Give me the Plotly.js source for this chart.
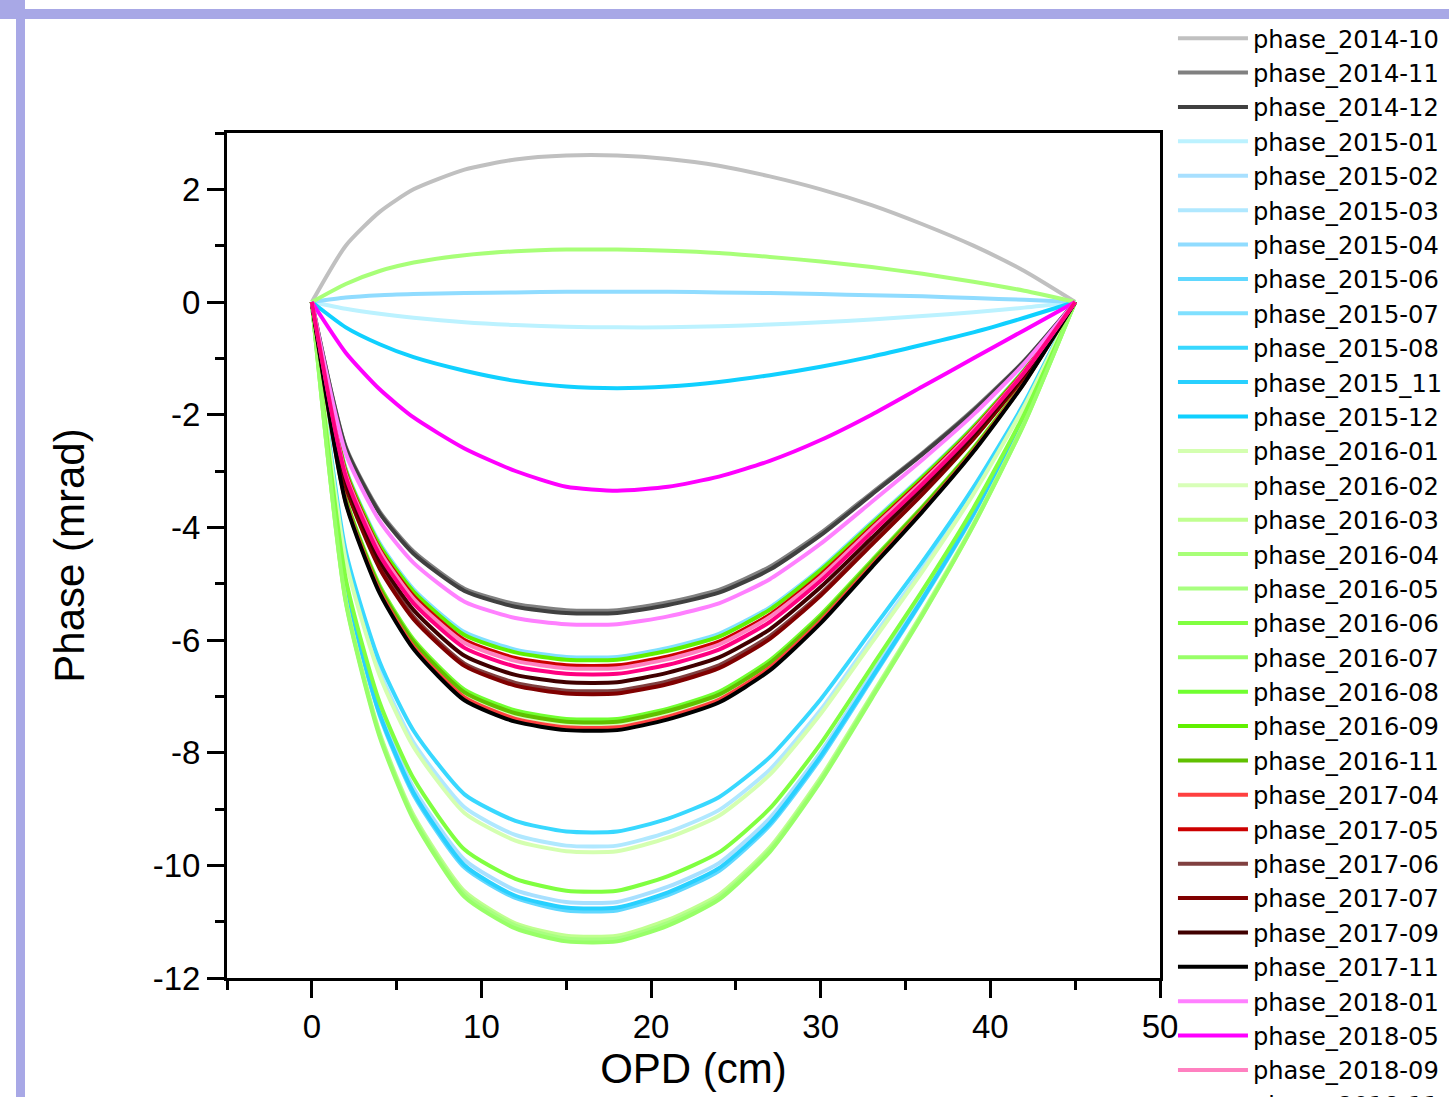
<!DOCTYPE html>
<html>
<head>
<meta charset="utf-8">
<script src="https://cdn.plot.ly/plotly-3.0.1.min.js"></script>
<style>
html, body { margin: 0; padding: 0; background: #fff; overflow: hidden; width: 1449px; height: 1097px; }
#chart { position: absolute; left: 0; top: 0; }
.frame { position: absolute; background: #A8A8E6; z-index: 10; }
</style>
</head>
<body>
<div id="chart"></div>
<div class="frame" style="left:0;top:0;width:22px;height:19px;"></div>
<div class="frame" style="left:0;top:9px;width:1449px;height:10px;"></div>
<div class="frame" style="left:16px;top:0;width:9px;height:1097px;"></div>
<script>
// OPD sample positions (cm)
const opd = [0, 2, 4, 6, 9, 12, 15, 18, 21, 24, 27, 30, 33, 36, 39, 42, 45];

// Phase (mrad) per measurement month
const phase_2014_10 = [0, 1.00, 1.60, 2.00, 2.35, 2.53, 2.60, 2.60, 2.54, 2.42, 2.23, 2.00, 1.72, 1.38, 1.00, 0.55, 0];
const phase_2014_11 = [0, -2.57, -3.72, -4.43, -5.09, -5.36, -5.47, -5.47, -5.33, -5.11, -4.70, -4.10, -3.39, -2.68, -1.91, -1.04, 0];
const phase_2014_12 = [0, -2.59, -3.75, -4.47, -5.13, -5.41, -5.52, -5.52, -5.38, -5.16, -4.75, -4.14, -3.42, -2.70, -1.93, -1.05, 0];
const phase_2015_01 = [0, -0.12, -0.21, -0.28, -0.36, -0.41, -0.44, -0.45, -0.45, -0.43, -0.40, -0.36, -0.31, -0.25, -0.18, -0.10, 0];
const phase_2015_02 = [0, -5.01, -7.24, -8.63, -9.90, -10.44, -10.65, -10.65, -10.38, -9.96, -9.16, -7.99, -6.60, -5.22, -3.73, -2.02, 0];
const phase_2015_03 = [0, -4.54, -6.56, -7.82, -8.97, -9.46, -9.65, -9.65, -9.41, -9.02, -8.30, -7.24, -5.98, -4.73, -3.38, -1.83, 0];
const phase_2015_04 = [0, 0.08, 0.12, 0.14, 0.16, 0.17, 0.18, 0.18, 0.18, 0.17, 0.16, 0.14, 0.12, 0.10, 0.07, 0.04, 0];
const phase_2015_06 = [0, -5.08, -7.34, -8.75, -10.04, -10.58, -10.80, -10.80, -10.53, -10.10, -9.29, -8.10, -6.70, -5.29, -3.78, -2.05, 0];
const phase_2015_07 = [0, -2.96, -4.28, -5.10, -5.86, -6.17, -6.30, -6.30, -6.14, -5.89, -5.42, -4.73, -3.91, -3.09, -2.21, -1.20, 0];
const phase_2015_08 = [0, -4.42, -6.39, -7.61, -8.74, -9.21, -9.40, -9.40, -9.17, -8.79, -8.08, -7.05, -5.83, -4.61, -3.29, -1.79, 0];
const phase_2015_11 = [0, -5.05, -7.31, -8.71, -10.00, -10.54, -10.75, -10.75, -10.48, -10.05, -9.25, -8.06, -6.67, -5.27, -3.76, -2.04, 0];
const phase_2015_12 = [0, -0.45, -0.75, -0.98, -1.22, -1.40, -1.50, -1.53, -1.50, -1.42, -1.30, -1.15, -0.97, -0.76, -0.54, -0.28, 0];
const phase_2016_01 = [0, -4.58, -6.63, -7.90, -9.07, -9.56, -9.75, -9.75, -9.51, -9.12, -8.39, -7.31, -6.05, -4.78, -3.41, -1.85, 0];
const phase_2016_02 = [0, -3.53, -5.10, -6.08, -6.98, -7.35, -7.50, -7.50, -7.31, -7.01, -6.45, -5.63, -4.65, -3.68, -2.63, -1.43, 0];
const phase_2016_03 = [0, -5.29, -7.65, -9.11, -10.46, -11.03, -11.25, -11.25, -10.97, -10.52, -9.68, -8.44, -6.98, -5.51, -3.94, -2.14, 0];
const phase_2016_04 = [0, 0.32, 0.55, 0.70, 0.83, 0.90, 0.93, 0.93, 0.91, 0.87, 0.80, 0.72, 0.62, 0.50, 0.36, 0.20, 0];
const phase_2016_05 = [0, -5.31, -7.68, -9.15, -10.51, -11.07, -11.30, -11.30, -11.02, -10.57, -9.72, -8.48, -7.01, -5.54, -3.96, -2.15, 0];
const phase_2016_06 = [0, -4.91, -7.11, -8.46, -9.72, -10.24, -10.45, -10.45, -10.19, -9.77, -8.99, -7.84, -6.48, -5.12, -3.66, -1.99, 0];
const phase_2016_07 = [0, -5.33, -7.72, -9.19, -10.56, -11.12, -11.35, -11.35, -11.07, -10.61, -9.76, -8.51, -7.04, -5.56, -3.97, -2.16, 0];
const phase_2016_08 = [0, -3.48, -5.03, -5.99, -6.88, -7.25, -7.40, -7.40, -7.22, -6.92, -6.36, -5.55, -4.59, -3.63, -2.59, -1.41, 0];
const phase_2016_09 = [0, -2.98, -4.32, -5.14, -5.91, -6.22, -6.35, -6.35, -6.19, -5.94, -5.46, -4.76, -3.94, -3.11, -2.22, -1.21, 0];
const phase_2016_11 = [0, -3.50, -5.07, -6.03, -6.93, -7.30, -7.45, -7.45, -7.26, -6.97, -6.41, -5.59, -4.62, -3.65, -2.61, -1.42, 0];
const phase_2017_04 = [0, -3.55, -5.13, -6.12, -7.02, -7.40, -7.55, -7.55, -7.36, -7.06, -6.49, -5.66, -4.68, -3.70, -2.64, -1.43, 0];
const phase_2017_05 = [0, -3.03, -4.39, -5.22, -6.00, -6.32, -6.45, -6.45, -6.29, -6.03, -5.55, -4.84, -4.00, -3.16, -2.26, -1.23, 0];
const phase_2017_06 = [0, -3.24, -4.69, -5.59, -6.42, -6.76, -6.90, -6.90, -6.73, -6.45, -5.93, -5.18, -4.28, -3.38, -2.42, -1.31, 0];
const phase_2017_07 = [0, -3.27, -4.73, -5.63, -6.46, -6.81, -6.95, -6.95, -6.78, -6.50, -5.98, -5.21, -4.31, -3.41, -2.43, -1.32, 0];
const phase_2017_09 = [0, -3.17, -4.59, -5.47, -6.28, -6.62, -6.75, -6.75, -6.58, -6.31, -5.81, -5.06, -4.19, -3.31, -2.36, -1.28, 0];
const phase_2017_11 = [0, -3.57, -5.17, -6.16, -7.07, -7.45, -7.60, -7.60, -7.41, -7.11, -6.54, -5.70, -4.71, -3.72, -2.66, -1.44, 0];
const phase_2018_01 = [0, -2.69, -3.89, -4.63, -5.32, -5.61, -5.72, -5.72, -5.58, -5.35, -4.92, -4.29, -3.55, -2.80, -2.00, -1.09, 0];
const phase_2018_05 = [0, -0.90, -1.55, -2.05, -2.60, -3.00, -3.28, -3.35, -3.28, -3.10, -2.82, -2.45, -2.00, -1.50, -1.00, -0.50, 0];
const phase_2018_09 = [0, -3.06, -4.42, -5.27, -6.05, -6.37, -6.50, -6.50, -6.34, -6.08, -5.59, -4.88, -4.03, -3.19, -2.28, -1.24, 0];
const phase_2018_11 = [0, -3.10, -4.49, -5.35, -6.14, -6.47, -6.60, -6.60, -6.44, -6.17, -5.68, -4.95, -4.09, -3.23, -2.31, -1.25, 0];

const seriesNames = [
  'phase_2014-10','phase_2014-11','phase_2014-12','phase_2015-01','phase_2015-02','phase_2015-03',
  'phase_2015-04','phase_2015-06','phase_2015-07','phase_2015-08','phase_2015_11','phase_2015-12',
  'phase_2016-01','phase_2016-02','phase_2016-03','phase_2016-04','phase_2016-05','phase_2016-06',
  'phase_2016-07','phase_2016-08','phase_2016-09','phase_2016-11','phase_2017-04','phase_2017-05',
  'phase_2017-06','phase_2017-07','phase_2017-09','phase_2017-11','phase_2018-01','phase_2018-05',
  'phase_2018-09','phase_2018-11'
];
const seriesValues = [
  phase_2014_10, phase_2014_11, phase_2014_12, phase_2015_01, phase_2015_02, phase_2015_03,
  phase_2015_04, phase_2015_06, phase_2015_07, phase_2015_08, phase_2015_11, phase_2015_12,
  phase_2016_01, phase_2016_02, phase_2016_03, phase_2016_04, phase_2016_05, phase_2016_06,
  phase_2016_07, phase_2016_08, phase_2016_09, phase_2016_11, phase_2017_04, phase_2017_05,
  phase_2017_06, phase_2017_07, phase_2017_09, phase_2017_11, phase_2018_01, phase_2018_05,
  phase_2018_09, phase_2018_11
];
const seriesColors = [
  '#C0C0C0','#808080','#404040','#BCF2FF','#A8E0FF','#B0E8FF',
  '#90DCFF','#60D8FF','#80E0FF','#38D8FF','#28D0FF','#10D0FF',
  '#D4FFB0','#D8FFB8','#C0FF90','#A8FF78','#A8FF80','#80FF40',
  '#98FF68','#70FF30','#60F000','#60C000','#FF4040','#CC0000',
  '#804040','#800000','#400000','#000000','#FF80FF','#FF00FF',
  '#FF80C0','#FF0080'
];

const yTickVals = [-12, -10, -8, -6, -4, -2, 0, 2];
const yTickText = ['-12', '-10', '-8', '-6', '-4', '-2', '0', '2'];
const xTickVals = [0, 10, 20, 30, 40, 50];
const xTickText = ['0', '10', '20', '30', '40', '50'];

const traces = seriesNames.map((name, i) => ({
  type: 'scatter', mode: 'lines', name: name,
  x: opd, y: seriesValues[i],
  line: { color: seriesColors[i], width: 4, shape: 'spline', smoothing: 0.6 }
}));

const axisFont = { family: 'Liberation Sans, Arial, sans-serif', size: 33, color: '#000' };
const titleFont = { family: 'Liberation Sans, Arial, sans-serif', size: 42, color: '#000' };

const layout = {
  width: 1449, height: 1160,
  paper_bgcolor: '#fff', plot_bgcolor: '#fff',
  margin: { l: 227, r: 289, t: 133, b: 182, autoexpand: false },
  showlegend: true,
  legend: {
    x: 1.0139, xanchor: 'left', y: 1.1385, yanchor: 'top',
    font: { family: 'DejaVu Sans, sans-serif', size: 24.15, color: '#000' },
    itemwidth: 70, bgcolor: 'rgba(0,0,0,0)', borderwidth: 0,
    traceorder: 'normal', maxheight: 1
  },
  xaxis: {
    range: [-5, 50], tickmode: 'array', tickvals: xTickVals, ticktext: xTickText,
    ticks: 'outside', ticklen: 17, tickwidth: 3, tickcolor: '#000',
    showline: true, linewidth: 3, linecolor: '#000', mirror: true,
    showgrid: false, zeroline: false, tickfont: axisFont,
    minor: { tickmode: 'array', tickvals: [-5, 5, 15, 25, 35, 45], ticks: 'outside', ticklen: 9, tickwidth: 3, tickcolor: '#000', showgrid: false },
    title: { text: 'OPD (cm)', font: titleFont, standoff: 8 }
  },
  yaxis: {
    range: [-12, 3], tickmode: 'array', tickvals: yTickVals, ticktext: yTickText,
    ticks: 'outside', ticklen: 17, tickwidth: 3, tickcolor: '#000',
    showline: true, linewidth: 3, linecolor: '#000', mirror: true,
    showgrid: false, zeroline: false, tickfont: axisFont,
    minor: { tickmode: 'array', tickvals: [-11, -9, -7, -5, -3, -1, 1, 3], ticks: 'outside', ticklen: 9, tickwidth: 3, tickcolor: '#000', showgrid: false },
    title: { text: 'Phase (mrad)', font: titleFont, standoff: 55 }
  }
};

Plotly.newPlot('chart', traces, layout, { staticPlot: true, displayModeBar: false });
</script>
</body>
</html>
